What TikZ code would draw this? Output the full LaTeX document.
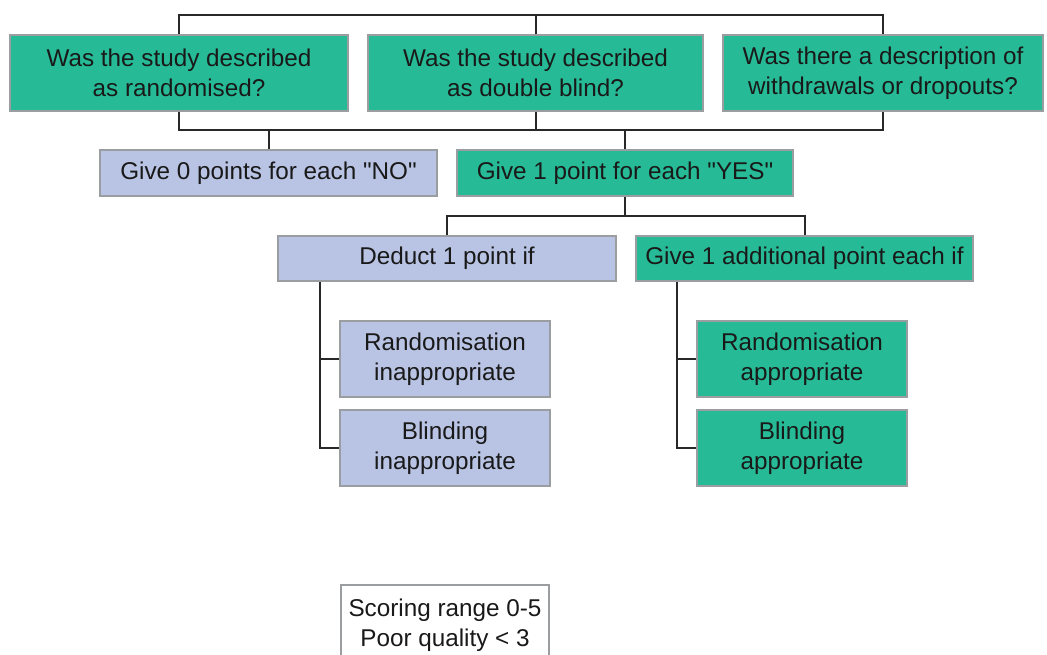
\documentclass[tikz,border=0pt]{standalone}
\usepackage{fontspec}
\setmainfont{Liberation Sans}
\usepackage{tikz}
\usetikzlibrary{calc, positioning}
\definecolor{boxgreen}{RGB}{38, 187, 150}
\definecolor{boxlav}{RGB}{185, 196, 228}
\definecolor{boxedge}{RGB}{155, 158, 160}
\definecolor{linedark}{RGB}{40, 40, 40}

\begin{document}
\begin{tikzpicture}[x=0.75pt, y=-0.75pt,
    box/.style={draw=boxedge, line width=1.1pt, align=center, inner sep=0pt,
        text=black!90, font=\fontsize{18.2}{22.5}\selectfont},
    yesbox/.style={box, fill=boxgreen},
    nobox/.style={box, fill=boxlav},
    link/.style={draw=linedark, line width=1.5pt}]
    \clip (0,0) rectangle (1047,655);

    % questions
    \node[yesbox, minimum width=338*0.75pt, minimum height=76*0.75pt] (Q1) at (179,73) {Was the study described\\as randomised?};
    \node[yesbox, minimum width=335*0.75pt, minimum height=76*0.75pt] (Q2) at (535.5,73) {Was the study described\\as double blind?};
    \node[yesbox, minimum width=320*0.75pt, minimum height=76*0.75pt] (Q3) at (883,73) {Was there a description of\\withdrawals or dropouts?};

    % points
    \node[nobox, minimum width=337*0.75pt, minimum height=46*0.75pt] (No) at (268.5,173) {Give 0 points for each \textquotedbl NO\textquotedbl};
    \node[yesbox, minimum width=336*0.75pt, minimum height=46*0.75pt] (Yes) at (625,173) {Give 1 point for each \textquotedbl YES\textquotedbl};

    \node[nobox, minimum width=338*0.75pt, minimum height=45*0.75pt] (Deduct) at (447,258.5) {Deduct 1 point if};
    \node[yesbox, minimum width=337*0.75pt, minimum height=45*0.75pt] (Extra) at (804.5,258.5) {Give 1 additional point each if};

    \node[nobox, minimum width=210*0.75pt, minimum height=76*0.75pt] (RandBad) at (445,359) {Randomisation\\inappropriate};
    \node[nobox, minimum width=210*0.75pt, minimum height=76*0.75pt] (BlindBad) at (445,448) {Blinding\\inappropriate};
    \node[yesbox, minimum width=210*0.75pt, minimum height=76*0.75pt] (RandOk) at (802,359) {Randomisation\\appropriate};
    \node[yesbox, minimum width=210*0.75pt, minimum height=76*0.75pt] (BlindOk) at (802,448) {Blinding\\appropriate};

    \node[box, fill=white, minimum width=208*0.75pt, minimum height=80*0.75pt] (Score) at (445,625) {Scoring range 0-5\\Poor quality < 3};

    % buses
    \coordinate (TopBus) at (0,15);
    \coordinate (MidBus) at (0,130);
    \coordinate (LowBus) at (0,216);
    \draw[link] (Q1.north) -- (Q1.north |- TopBus) -- (Q3.north |- TopBus) -- (Q3.north);
    \draw[link] (Q2.north) -- (Q2.north |- TopBus);
    \draw[link] (Q1.south) -- (Q1.south |- MidBus) -- (Q3.south |- MidBus) -- (Q3.south);
    \draw[link] (Q2.south) -- (Q2.south |- MidBus);
    \draw[link] (No.north) -- (No.north |- MidBus);
    \draw[link] (Yes.north) -- (Yes.north |- MidBus);

    \draw[link] (Yes.south) -- (Yes.south |- LowBus);
    \draw[link] (Deduct.north) -- (Deduct.north |- LowBus) -- (Extra.north |- LowBus) -- (Extra.north);

    % sub lists
    \draw[link] ($(Deduct.south west)+(43,0)$) coordinate (LSpine) |- (BlindBad.west);
    \draw[link] (RandBad.west) -- (RandBad.west -| LSpine);
    \draw[link] ($(Extra.south west)+(42,0)$) coordinate (RSpine) |- (BlindOk.west);
    \draw[link] (RandOk.west) -- (RandOk.west -| RSpine);
\end{tikzpicture}
\end{document}
